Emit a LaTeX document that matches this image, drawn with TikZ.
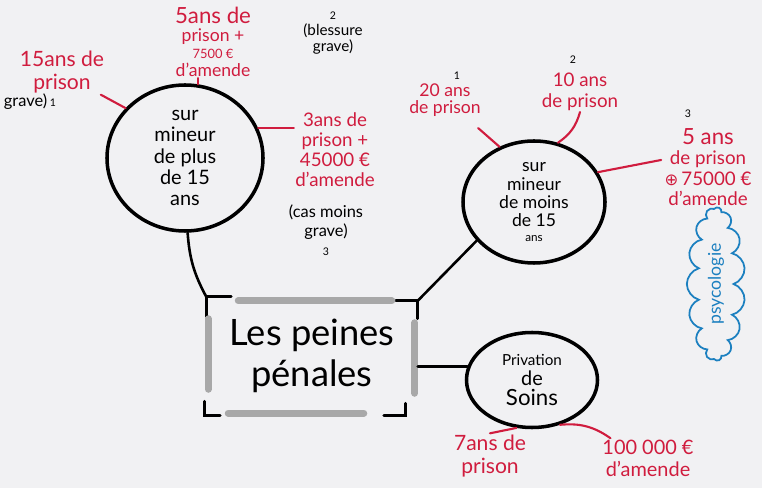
\documentclass[tikz,border=0pt]{standalone}
\usepackage{fontspec}
\setmainfont{Lato}
\newfontfamily\symb{DejaVu Sans}
\usetikzlibrary{positioning, shapes.geometric, shapes.symbols}
\definecolor{rouge}{RGB}{208,28,62}
\definecolor{bleu}{RGB}{28,128,192}
\definecolor{gris}{RGB}{168,168,168}
\definecolor{fond}{RGB}{241,241,243}
\newcommand{\taille}[1]{\fontsize{#1}{#1}\selectfont}

\begin{document}
\begin{tikzpicture}[x=0.03cm, y=-0.03cm, line cap=round,
  cercle/.style = {draw, ellipse, line width=3pt, inner sep=0pt, align=center},
  peine/.style = {text=rouge, align=center, inner sep=1pt},
  note/.style = {align=center, inner sep=1pt, font=\fontsize{13}{14}\selectfont},
  lien/.style = {line width=2.2pt},
  trait/.style = {rouge, line width=1.8pt},
  coin/.style = {line width=2.4pt},
  barre/.style = {gris, line width=6pt}]
  \fill[fond] (0,0) rectangle (762,488);
  \useasboundingbox (0,0) rectangle (762,488);

  % les trois cas et le titre
  \node[cercle, minimum width=4.68cm, minimum height=4.38cm, font=\fontsize{17}{18}\selectfont] (plus) at (185,158) {sur\\mineur\\de plus\\de 15\\ans};
  \node[cercle, minimum width=4.26cm, minimum height=3.66cm, font=\fontsize{15}{15.5}\selectfont] (moins) at (534,202) {sur\\mineur\\de moins\\de 15\\[-3pt]{\taille{10}ans}};
  \node[cercle, minimum width=3.93cm, minimum height=2.85cm, font=\fontsize{17}{17}\selectfont] (soins) at (532,380) {{\taille{13}Privation}\\de\\{\taille{19}Soins}};
  \node[minimum width=6.33cm, minimum height=3.54cm, align=center, font=\fontsize{31}{35}\selectfont] (peines) at (312,356) {Les peines\\pénales};

  % cadre du titre
  \draw[coin] ([shift={(0,20)}]peines.north west) -- (peines.north west) -- ++(25,0);
  \draw[coin] ([shift={(-22,4)}]peines.north east) -- ([shift={(0,4)}]peines.north east) -- ++(0,18);
  \draw[coin] ([shift={(-12,-12)}]peines.south east) -- ([shift={(-12,0)}]peines.south east) -- ++(-22,0);
  \draw[coin] ([shift={(-2,-14)}]peines.south west) -- ([shift={(-2,0)}]peines.south west) -- ++(16,0);
  \draw[barre] ([shift={(32,4)}]peines.north west) -- ([shift={(-26,4)}]peines.north east);
  \draw[barre] ([shift={(-3,26)}]peines.north east) -- ([shift={(-3,-22)}]peines.south east);
  \draw[barre] ([shift={(22,-2)}]peines.south west) -- ([shift={(-54,-2)}]peines.south east);
  \draw[barre] ([shift={(2,22)}]peines.north west) -- ([shift={(2,-26)}]peines.south west);

  % liens
  \draw[lien] (plus.-88) to[bend right=12] (peines.north west);
  \draw[lien] (moins.214) -- ([shift={(0,4)}]peines.north east);
  \draw[lien] (peines.east |- soins.168) -- (soins.168);

  % plus de 15 ans
  \node[peine, font=\fontsize{18}{20}\selectfont] (l15) at (62,72) {15ans de\\prison};
  \node[note, font=\fontsize{14}{15}\selectfont] (n15) at (30,102) {grave)\,{\taille{9}1}};
  \draw[trait] ([xshift=-4pt]l15.south east) -- (plus.140);
  \node[peine, font=\fontsize{15}{15}\selectfont] (l5) at (213,42) {{\taille{19}5ans de}\\prison +\\{\taille{11}7500 €}\\d'amende};
  \draw[trait] (plus.80) -- (plus.80 |- l5.south);
  \node[note] (n5) at (333,33) {{\taille{9}2}\\(blessure\\grave)};
  \node[peine, font=\fontsize{16}{17}\selectfont] (l3) at (335,150) {3ans de\\prison +\\45000 €\\d'amende};
  \draw[trait] (plus.22) -- (l3.west |- plus.22);
  \node[note, font=\fontsize{14}{16}\selectfont] (n3) at (326,230) {(cas moins\\grave)\\{\taille{9}3}};

  % moins de 15 ans
  \node[peine, font=\fontsize{15}{15}\selectfont] (l20) at (445,100) {20 ans\\de prison};
  \node[note, font=\taille{9}] (n20) at (457,76) {1};
  \draw[trait] ([shift={(-4,10)}]l20.south east) -- (moins.122);
  \node[peine, font=\fontsize{16}{17.5}\selectfont] (l10) at (580,92) {10 ans\\de prison};
  \node[note, font=\taille{9}] (n10) at (573,60) {2};
  \draw[trait] (l10.south) to[bend left=20] (moins.68);
  \node[peine, font=\fontsize{16}{17.5}\selectfont] (l5b) at (708,167) {{\taille{19}5 ans}\\de prison\\{\symb\taille{14}⊕}\,75000 €\\d'amende};
  \node[note, font=\taille{9}] (n5b) at (688,114) {3};
  \draw[trait] (moins.25) -- ([shift={(-2,6pt)}]l5b.west);

  % privation de soins
  \node[peine, font=\fontsize{18}{20}\selectfont] (l7) at (490,456) {7ans de\\prison};
  \draw[trait] (soins.252) -- (l7.north);
  \node[peine, font=\fontsize{17}{19}\selectfont] (l100) at (648,458) {100 000 €\\d'amende};
  \draw[trait] (soins.-58) to[bend left=20] ([xshift=8pt]l100.north west);

  % nuage
  \node[cloud, cloud ignores aspect, draw=bleu, line width=1.5pt, text=bleu, rotate=90, cloud puffs=15,
        minimum width=4.6cm, minimum height=1.75cm, inner sep=1pt, font=\fontsize{15}{15}\selectfont] (psy) at (716,284) {psycologie};
\end{tikzpicture}
\end{document}
